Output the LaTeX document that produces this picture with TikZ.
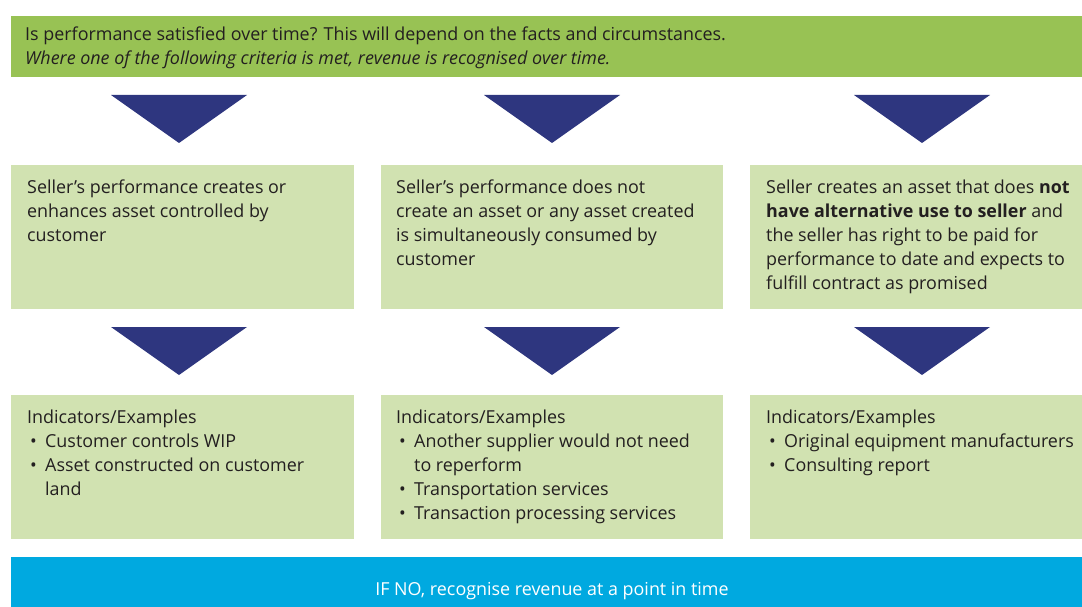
\documentclass[tikz,border=0pt]{standalone}
\usepackage{fontspec}
\setmainfont{Open Sans}
\usetikzlibrary{positioning}

\definecolor{barGreen}{HTML}{98C254}
\definecolor{boxGreen}{HTML}{D1E2B1}
\definecolor{arrowBlue}{HTML}{2E367F}
\definecolor{barBlue}{HTML}{00A9E0}
\definecolor{inkGrey}{HTML}{231F20}

% bullet with hanging indent
\newcommand{\itm}{\makebox[18pt][l]{\hspace{3pt}\textbullet}}
\newcommand{\cont}{\hspace*{18pt}}

\begin{document}
\begin{tikzpicture}[x=1pt,y=-1pt,
    panel/.style={fill=boxGreen, anchor=north west, minimum height=144pt, inner sep=0pt},
    blurb/.style={anchor=base west, align=left, inner sep=0pt,
      font=\fontsize{17.9}{24}\selectfont, text=inkGrey},
  ]
  \useasboundingbox (0,0) rectangle (1082,607);

  % question bar (text nodes sit on the baseline of their last line)
  \node [fill=barGreen, anchor=north west, minimum width=1071pt, minimum height=61pt, inner sep=0pt] (question) at (11,16) {};
  \node [blurb] (qtext) at (25,65) {Is performance satisfied over time? This will depend on the facts and circumstances.\\
    \textit{Where one of the following criteria is met, revenue is recognised over time.}};

  % criteria
  \node [panel, minimum width=343pt] (crit1) at (11,165) {};
  \node [panel, minimum width=342pt] (crit2) at (381,165) {};
  \node [panel, minimum width=332pt] (crit3) at (750,165) {};
  \node [blurb] at (27,241) {Seller’s performance creates or\\ enhances asset controlled by\\ customer};
  \node [blurb] at (396,265) {Seller’s performance does not\\ create an asset or any asset created\\ is simultaneously consumed by\\ customer};
  \node [blurb] at (766,289) {Seller creates an asset that does \textbf{not}\\ \textbf{have alternative use to seller} and\\ the seller has right to be paid for\\ performance to date and expects to\\ fulfill contract as promised};

  % indicators
  \node [panel, minimum width=343pt] (ind1) at (11,395) {};
  \node [panel, minimum width=342pt] (ind2) at (381,395) {};
  \node [panel, minimum width=332pt] (ind3) at (750,395) {};
  \node [blurb] at (27,495) {Indicators/Examples\\ \itm Customer controls WIP\\ \itm Asset constructed on customer\\ \cont land};
  \node [blurb] at (396,519) {Indicators/Examples\\ \itm Another supplier would not need\\ \cont to reperform\\ \itm Transportation services\\ \itm Transaction processing services};
  \node [blurb] at (766,471) {Indicators/Examples\\ \itm Original equipment manufacturers\\ \itm Consulting report};

  % down arrows
  \foreach \cx in {179,552,922} {
    \fill [arrowBlue] (\cx-68,95) -- (\cx+68,95) -- (\cx,143) -- cycle;
    \fill [arrowBlue] (\cx-68,327) -- (\cx+68,327) -- (\cx,375) -- cycle;
  }

  % fallback bar
  \node [fill=barBlue, anchor=north west, minimum width=1071pt, minimum height=50pt, inner sep=0pt] (fallback) at (11,557) {};
  \node [anchor=base, inner sep=0pt, font=\fontsize{17.9}{24}\selectfont, text=white] at (552,595) {IF NO, recognise revenue at a point in time};
\end{tikzpicture}
\end{document}
